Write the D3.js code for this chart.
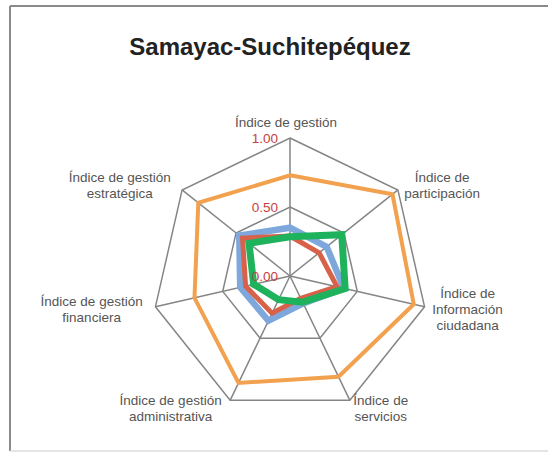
<!DOCTYPE html>
<html lang="es">
<head>
<meta charset="UTF-8">
<title>Samayac-Suchitepéquez</title>
<script src="https://cdnjs.cloudflare.com/ajax/libs/d3/7.8.5/d3.min.js"></script>
<style>
    html, body { margin: 0; padding: 0; background: #fff; }
    body { font-family: 'Liberation Sans', Arial, Helvetica, sans-serif; }
    .axis-label { font-size: 13.5px; fill: #555; }
    .tick-label { font-size: 13.5px; fill: #c8403f; }
    .grid { fill: none; stroke: #858585; stroke-width: 1.5px; }
    .series { fill: none; stroke-linejoin: miter; }
</style>
</head>
<body>
<div id="chart"></div>
<script>
// categories, clockwise from the top
const categories = [
    ["Índice de gestión"],
    ["Índice de", "participación"],
    ["Índice de", "Información", "ciudadana"],
    ["Índice de", "servicios"],
    ["Índice de gestión", "administrativa"],
    ["Índice de gestión", "financiera"],
    ["Índice de gestión", "estratégica"]
];

// series values, same order as categories
const orangeValues = [0.73, 0.95, 0.92, 0.81, 0.86, 0.71, 0.85];
const blueValues   = [0.35, 0.34, 0.40, 0.22, 0.36, 0.37, 0.47];
const redValues    = [0.29, 0.27, 0.35, 0.18, 0.30, 0.33, 0.44];
const greenValues  = [0.285, 0.48, 0.41, 0.21, 0.19, 0.27, 0.38];

const tickValues = [0, 0.5, 1];
const tickLabels = ["0.00", "0.50", "1.00"];
const gridLevels = [0.5, 1];

const series = [
    { values: blueValues,   color: "#7ea8dc", width: 6.5 },
    { values: orangeValues, color: "#f2a14f", width: 4 },
    { values: redValues,    color: "#d8614a", width: 5 },
    { values: greenValues,  color: "#1fb25c", width: 7 }
];

const width = 548, height = 452;
const cx = 290, cy = 276, R = 138;

const svg = d3.select("#chart").append("svg")
    .attr("width", width)
    .attr("height", height);

// frame
svg.append("line").attr("x1", 10).attr("x2", width).attr("y1", 6).attr("y2", 6)
    .attr("stroke", "#8a8a8a").attr("stroke-width", 2);
svg.append("line").attr("x1", 10).attr("x2", 10).attr("y1", 6).attr("y2", 451)
    .attr("stroke", "#8a8a8a").attr("stroke-width", 2);
svg.append("line").attr("x1", 10).attr("x2", width).attr("y1", 451).attr("y2", 451)
    .attr("stroke", "#dddddd").attr("stroke-width", 1.5);

svg.append("text")
    .attr("x", 270)
    .attr("y", 55)
    .attr("text-anchor", "middle")
    .style("font-size", "24px")
    .style("font-weight", "bold")
    .style("fill", "#222")
    .text("Samayac-Suchitepéquez");

const n = categories.length;
const angle = d3.scaleLinear().domain([0, n]).range([0, 2 * Math.PI]);
const r = d3.scaleLinear().domain([0, 1]).range([0, R]);

const g = svg.append("g").attr("transform", `translate(${cx},${cy})`);

const radial = d3.lineRadial()
    .angle((d, i) => angle(i))
    .radius(d => r(d))
    .curve(d3.curveLinearClosed);

// grid rings
g.selectAll(".ring")
    .data(gridLevels)
    .join("path")
    .attr("class", "grid")
    .attr("d", lvl => radial(d3.range(n).map(() => lvl)));

// spokes
g.selectAll(".spoke")
    .data(d3.range(n))
    .join("line")
    .attr("class", "grid")
    .attr("x1", 0).attr("y1", 0)
    .attr("x2", i => r(1) * Math.sin(angle(i)))
    .attr("y2", i => -r(1) * Math.cos(angle(i)));

// series
g.selectAll(".series")
    .data(series)
    .join("path")
    .attr("class", "series")
    .attr("stroke", d => d.color)
    .attr("stroke-width", d => d.width)
    .attr("d", d => radial(d.values));

// tick labels along the top axis
g.selectAll(".tick-label")
    .data(tickValues)
    .join("text")
    .attr("class", "tick-label")
    .attr("x", -12)
    .attr("y", d => -r(d))
    .attr("dy", "0.35em")
    .attr("text-anchor", "end")
    .text((d, i) => tickLabels[i]);

// axis labels: block sits just outside the outer ring, lines centred inside it
const pad = 8, lineH = 16;
categories.forEach((lines, i) => {
    const a = angle(i);
    const sx = Math.sin(a), sy = -Math.cos(a);
    const px = (R + pad) * sx, py = (R + pad) * sy;
    const lg = g.append("g");
    const t = lg.append("text").attr("class", "axis-label").attr("text-anchor", "middle");
    lines.forEach((ln, k) => {
        t.append("tspan").attr("x", 0).attr("y", k * lineH).text(ln);
    });
    const bb = t.node().getBBox();
    let dx, dy;
    if (Math.abs(sx) < 0.05) {
        dx = px - 4;
        dy = py - bb.y - bb.height;
    } else if (sx > 0) {
        dx = px - bb.x;
        dy = py - (bb.y + bb.height / 2) + 1;
    } else {
        dx = px - (bb.x + bb.width) - 5;
        dy = py - (bb.y + bb.height / 2) + 1;
    }
    lg.attr("transform", `translate(${dx},${dy})`);
});
</script>
</body>
</html>
